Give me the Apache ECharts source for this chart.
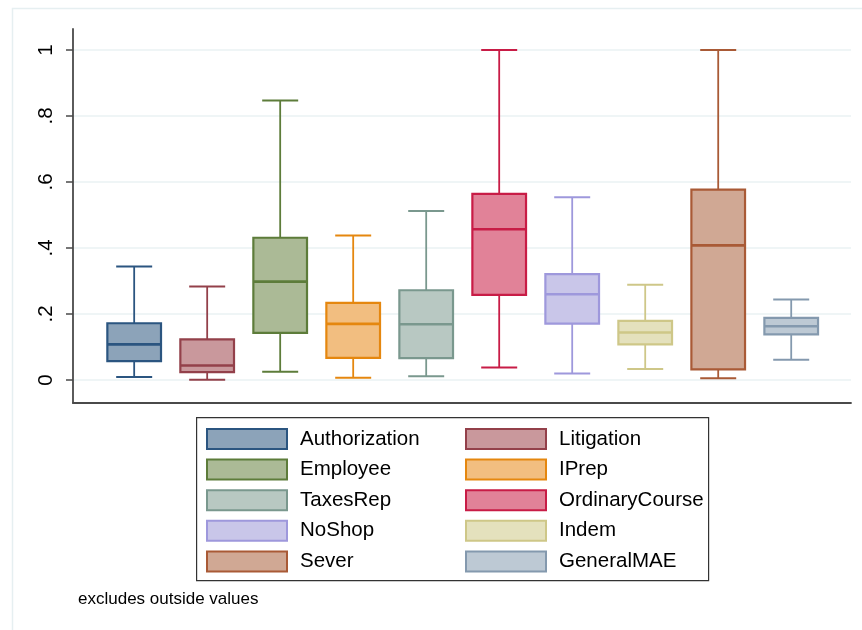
<!DOCTYPE html>
<html>
<head>
<meta charset="utf-8">
<script src="https://cdn.jsdelivr.net/npm/echarts@6/dist/echarts.min.js"></script>
<style>
html,body{margin:0;padding:0;background:#fff;}
#chart{width:862px;height:630px;}
</style>
</head>
<body>
<div id="chart"></div>
<script>
// ---- data ----
const categories = ['Authorization','Litigation','Employee','IPrep','TaxesRep','OrdinaryCourse','NoShop','Indem','Sever','GeneralMAE'];
const lowerWhisker = [0.009, 0.001, 0.025, 0.007, 0.011, 0.038, 0.020, 0.033, 0.005, 0.061];
const quartile1    = [0.057, 0.024, 0.143, 0.067, 0.066, 0.258, 0.171, 0.108, 0.032, 0.138];
const medians      = [0.108, 0.044, 0.298, 0.170, 0.169, 0.457, 0.260, 0.144, 0.408, 0.163];
const quartile3    = [0.172, 0.123, 0.431, 0.234, 0.272, 0.564, 0.321, 0.179, 0.577, 0.188];
const upperWhisker = [0.344, 0.283, 0.847, 0.438, 0.512, 1.000, 0.554, 0.289, 1.000, 0.244];
const tickValues = [0, 0.2, 0.4, 0.6, 0.8, 1];
const tickLabels = ['0', '.2', '.4', '.6', '.8', '1'];
const note = 'excludes outside values';

// ---- styles ----
const strokeColors = ['#2b5580','#93404a','#5d7c3a','#e5870f','#7a988e','#c81c46','#9e98dc','#cec788','#a95a36','#8499ae'];
const fillColors   = ['#8ca3b9','#c9989c','#abba96','#f2be80','#b8c8c2','#e18298','#c9c6e9','#e4e1bd','#d0a894','#bdc9d4'];
const BOX_W = 0.735, CAP_W = 0.493;
const FONT = '"Liberation Sans", Arial, Helvetica, sans-serif';

const chart = echarts.init(document.getElementById('chart'), null, {renderer: 'canvas'});

function makeRender(i) {
  return function (params, api) {
    const x = api.value(0);
    const p = (v) => api.coord([x, v]);
    const cx = p(api.value(3))[0];
    const yMin = p(api.value(1))[1];
    const yQ1 = p(api.value(2))[1];
    const yMed = p(api.value(3))[1];
    const yQ3 = p(api.value(4))[1];
    const yMax = p(api.value(5))[1];
    const bw = api.size([BOX_W, 0])[0];
    const cw = api.size([CAP_W, 0])[0];
    const sc = strokeColors[i], fc = fillColors[i];
    return {
      type: 'group',
      children: [
        {type: 'line', shape: {x1: cx, y1: yQ3, x2: cx, y2: yMax}, style: {stroke: sc, lineWidth: 1.8}},
        {type: 'line', shape: {x1: cx, y1: yQ1, x2: cx, y2: yMin}, style: {stroke: sc, lineWidth: 1.8}},
        {type: 'line', shape: {x1: cx - cw / 2, y1: yMax, x2: cx + cw / 2, y2: yMax}, style: {stroke: sc, lineWidth: 2}},
        {type: 'line', shape: {x1: cx - cw / 2, y1: yMin, x2: cx + cw / 2, y2: yMin}, style: {stroke: sc, lineWidth: 2}},
        {type: 'rect', shape: {x: cx - bw / 2, y: yQ3, width: bw, height: yQ1 - yQ3}, style: {fill: fc, stroke: sc, lineWidth: 2.2}},
        {type: 'line', shape: {x1: cx - bw / 2, y1: yMed, x2: cx + bw / 2, y2: yMed}, style: {stroke: sc, lineWidth: 2.6}}
      ]
    };
  };
}

const series = categories.map((name, i) => ({
  name: name,
  type: 'custom',
  renderItem: makeRender(i),
  itemStyle: {color: fillColors[i], borderColor: strokeColors[i], borderWidth: 2},
  encode: {x: 0, y: [1, 2, 3, 4, 5]},
  data: [[i, lowerWhisker[i], quartile1[i], medians[i], quartile3[i], upperWhisker[i]]],
  silent: true
}));

function legendData(idx) {
  return idx.map(i => ({
    name: categories[i],
    icon: 'rect',
    itemStyle: {color: fillColors[i], borderColor: strokeColors[i], borderWidth: 2}
  }));
}

const legendCommon = {
  orient: 'vertical',
  top: 428,
  itemWidth: 80,
  itemHeight: 20,
  itemGap: 8.6,
  padding: 0,
  selectedMode: false,
  textStyle: {fontSize: 20.5, lineHeight: 20, color: '#000', fontFamily: FONT, padding: [0, 0, 0, 8]}
};

const option = {
  animation: false,
  backgroundColor: '#fff',
  grid: {left: 73, right: 11, top: 29, bottom: 227, containLabel: false},
  xAxis: {
    type: 'value',
    min: -0.838,
    max: 9.819,
    axisLine: {show: true, onZero: false, lineStyle: {color: '#4a4a4a', width: 1.8}},
    axisTick: {show: false},
    axisLabel: {show: false},
    splitLine: {show: false}
  },
  yAxis: {
    type: 'value',
    min: -0.0697,
    max: 1.0636,
    axisLine: {show: true, onZero: false, lineStyle: {color: '#4a4a4a', width: 1.8}},
    axisTick: {show: true, length: 7, customValues: tickValues, lineStyle: {color: '#4a4a4a', width: 1.5}},
    axisLabel: {
      show: true,
      rotate: 90,
      margin: 16,
      customValues: tickValues,
      fontSize: 20.5,
      color: '#000',
      fontFamily: FONT,
      formatter: function (v) {
        const k = tickValues.findIndex(t => Math.abs(t - v) < 1e-6);
        return k >= 0 ? tickLabels[k] : '';
      }
    },
    splitLine: {show: true, customValues: tickValues, lineStyle: {color: '#eaf2f3', width: 1.6}}
  },
  legend: [
    Object.assign({}, legendCommon, {left: 206, data: legendData([0, 2, 4, 6, 8])}),
    Object.assign({}, legendCommon, {left: 465, data: legendData([1, 3, 5, 7, 9])})
  ],
  graphic: [
    {type: 'rect', left: 10, top: 6, z: -10, shape: {width: 900, height: 700}, style: {fill: 'none', stroke: '#e6eff1', lineWidth: 1.5}},
    {type: 'rect', left: 196, top: 417, z: -5, shape: {width: 512, height: 163}, style: {fill: '#fff', stroke: '#333', lineWidth: 1.2}},
    {type: 'text', left: 78, top: 591, style: {text: note, font: '17px ' + FONT, fill: '#000'}}
  ],
  series: series
};

chart.setOption(option);
</script>
</body>
</html>
